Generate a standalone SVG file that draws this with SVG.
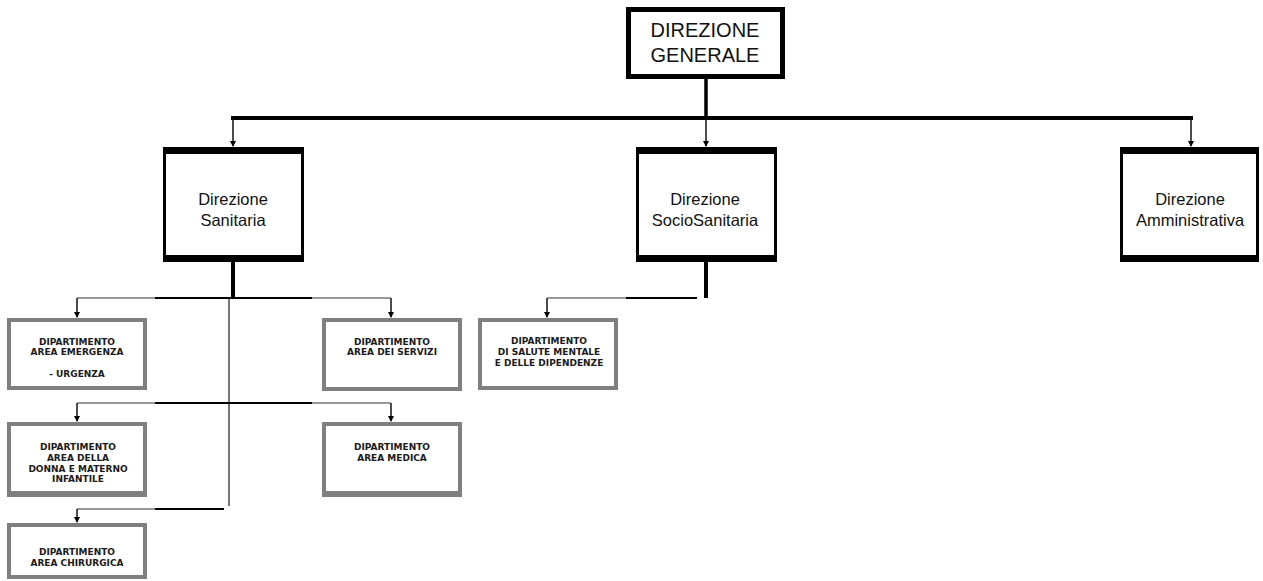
<svg xmlns="http://www.w3.org/2000/svg" width="1263" height="581" viewBox="0 0 1263 581">
  <style>
    .main { fill: #ffffff; stroke: #000000; stroke-width: 3; }
    .band { fill: #000000; }
    .top { fill: #ffffff; stroke: #000000; stroke-width: 5; }
    .dept { fill: #ffffff; stroke: #7f7f7f; stroke-width: 4; }
    .dband { fill: #7f7f7f; }
    .t-top { font-family: "Liberation Sans", Arial, sans-serif; font-size: 20px; fill: #111111; text-anchor: middle; }
    .t-main { font-family: "Liberation Sans", Arial, sans-serif; font-size: 16.5px; fill: #111111; text-anchor: middle; }
    .t-dept { font-family: "DejaVu Sans", Verdana, sans-serif; font-size: 9px; font-weight: bold; fill: #1a1a1a; text-anchor: middle; }
    .bus { fill: none; stroke: #000000; stroke-width: 4; }
    .stem { fill: none; stroke: #000000; stroke-width: 3.5; }
    .drop { fill: none; stroke: #111111; stroke-width: 1.5; }
    .thin { fill: none; stroke: #333333; stroke-width: 1.2; }
    .mid { fill: none; stroke: #000000; stroke-width: 2; }
    .spine { fill: none; stroke: #777777; stroke-width: 2; }
  </style>
  <defs>
    <marker id="arr" markerUnits="userSpaceOnUse" markerWidth="6" markerHeight="6" refX="5" refY="3" orient="auto">
      <path d="M0,0 L6,3 L0,6 z" fill="#000000"/>
    </marker>
  </defs>

  <!-- connectors -->
  <g id="connectors">
    <!-- top level -->
    <line class="stem" x1="706" y1="79" x2="706" y2="118"/>
    <line class="bus" x1="231" y1="118" x2="1193" y2="118"/>
    <line class="drop" x1="233" y1="118" x2="233" y2="146" marker-end="url(#arr)"/>
    <line class="drop" x1="706" y1="118" x2="706" y2="146" marker-end="url(#arr)"/>
    <line class="drop" x1="1191" y1="118" x2="1191" y2="146" marker-end="url(#arr)"/>

    <!-- below Direzione Sanitaria -->
    <line class="bus" x1="233" y1="262" x2="233" y2="298"/>
    <line class="spine" x1="229" y1="298" x2="229" y2="506"/>

    <!-- first row -->
    <path class="thin" d="M391,298 H77"/>
    <line class="mid" x1="155" y1="298" x2="312" y2="298"/>
    <line class="drop" x1="77" y1="298" x2="77" y2="317" marker-end="url(#arr)"/>
    <line class="drop" x1="391" y1="298" x2="391" y2="317" marker-end="url(#arr)"/>

    <!-- second row -->
    <path class="thin" d="M391,403 H77"/>
    <line class="mid" x1="155" y1="403" x2="312" y2="403"/>
    <line class="drop" x1="77" y1="403" x2="77" y2="421" marker-end="url(#arr)"/>
    <line class="drop" x1="391" y1="403" x2="391" y2="421" marker-end="url(#arr)"/>

    <!-- third row -->
    <path class="thin" d="M224,509 H77"/>
    <line class="mid" x1="155" y1="509" x2="224" y2="509"/>
    <line class="drop" x1="77" y1="509" x2="77" y2="522" marker-end="url(#arr)"/>

    <!-- below Direzione SocioSanitaria -->
    <line class="bus" x1="706" y1="262" x2="706" y2="298"/>
    <path class="thin" d="M697,298 H547"/>
    <line class="mid" x1="626" y1="298" x2="697" y2="298"/>
    <line class="drop" x1="547" y1="298" x2="547" y2="317" marker-end="url(#arr)"/>
  </g>

  <!-- Direzione Generale -->
  <g id="direzione-generale">
    <rect class="top" x="628.5" y="9.5" width="154" height="67"/>
    <text class="t-top" x="705" y="37">DIREZIONE</text>
    <text class="t-top" x="705" y="62">GENERALE</text>
  </g>

  <!-- Direzione Sanitaria -->
  <g id="direzione-sanitaria">
    <rect class="main" x="164.5" y="148.5" width="138" height="112"/>
    <rect class="band" x="163" y="147" width="141" height="7"/>
    <rect class="band" x="163" y="255" width="141" height="7"/>
    <text class="t-main" x="233" y="205">Direzione</text>
    <text class="t-main" x="233" y="226">Sanitaria</text>
  </g>

  <!-- Direzione SocioSanitaria -->
  <g id="direzione-sociosanitaria">
    <rect class="main" x="637.5" y="148.5" width="138" height="112"/>
    <rect class="band" x="636" y="147" width="141" height="7"/>
    <rect class="band" x="636" y="255" width="141" height="7"/>
    <text class="t-main" x="705" y="205">Direzione</text>
    <text class="t-main" x="705" y="226">SocioSanitaria</text>
  </g>

  <!-- Direzione Amministrativa -->
  <g id="direzione-amministrativa">
    <rect class="main" x="1121.5" y="148.5" width="136" height="112"/>
    <rect class="band" x="1120" y="147" width="139" height="7"/>
    <rect class="band" x="1120" y="255" width="139" height="7"/>
    <text class="t-main" x="1190" y="205">Direzione</text>
    <text class="t-main" x="1190" y="226">Amministrativa</text>
  </g>

  <!-- Dipartimento Area Emergenza - Urgenza -->
  <g id="dip-emergenza">
    <rect class="dept" x="9" y="320" width="136" height="68"/>
    <text class="t-dept" x="77" y="345">DIPARTIMENTO</text>
    <text class="t-dept" x="77" y="354.5">AREA EMERGENZA</text>
    <text class="t-dept" x="77" y="377">- URGENZA</text>
  </g>

  <!-- Dipartimento Area dei Servizi -->
  <g id="dip-servizi">
    <rect class="dept" x="324" y="320" width="136" height="69"/>
    <text class="t-dept" x="392" y="345">DIPARTIMENTO</text>
    <text class="t-dept" x="392" y="355">AREA DEI SERVIZI</text>
  </g>

  <!-- Dipartimento di Salute Mentale -->
  <g id="dip-salute-mentale">
    <rect class="dept" x="480" y="320" width="136" height="68"/>
    <text class="t-dept" x="549" y="344">DIPARTIMENTO</text>
    <text class="t-dept" x="549" y="354.5">DI SALUTE MENTALE</text>
    <text class="t-dept" x="549" y="365.5">E DELLE DIPENDENZE</text>
  </g>

  <!-- Dipartimento Area della Donna e Materno Infantile -->
  <g id="dip-donna">
    <rect class="dept" x="9" y="424" width="136" height="70"/>
    <rect class="dband" x="7" y="491" width="140" height="6"/>
    <text class="t-dept" x="78" y="450">DIPARTIMENTO</text>
    <text class="t-dept" x="78" y="460.5">AREA DELLA</text>
    <text class="t-dept" x="78" y="471.5">DONNA E MATERNO</text>
    <text class="t-dept" x="78" y="481.5">INFANTILE</text>
  </g>

  <!-- Dipartimento Area Medica -->
  <g id="dip-medica">
    <rect class="dept" x="324" y="424" width="136" height="70"/>
    <rect class="dband" x="322" y="491" width="140" height="6"/>
    <text class="t-dept" x="392" y="450">DIPARTIMENTO</text>
    <text class="t-dept" x="392" y="461">AREA MEDICA</text>
  </g>

  <!-- Dipartimento Area Chirurgica -->
  <g id="dip-chirurgica">
    <rect class="dept" x="9" y="525" width="136" height="52"/>
    <text class="t-dept" x="77" y="555">DIPARTIMENTO</text>
    <text class="t-dept" x="77" y="566">AREA CHIRURGICA</text>
  </g>
</svg>
